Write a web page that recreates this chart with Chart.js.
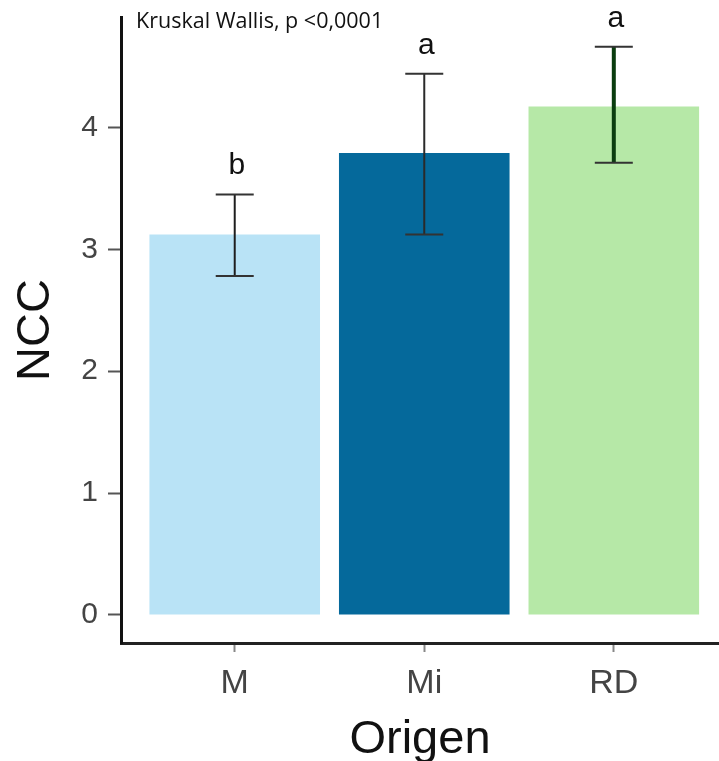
<!DOCTYPE html>
<html>
<head>
<meta charset="utf-8">
<script src="https://cdn.jsdelivr.net/npm/chart.js@4.4.1/dist/chart.umd.min.js"></script>
<style>
  html, body { margin: 0; padding: 0; background: #fff; }
</style>
</head>
<body>
<canvas id="nccChart" width="719" height="761"></canvas>
<script>
const categories = ['M', 'Mi', 'RD'];
const xPositions = [1, 2, 3];
const means = [3.12, 3.79, 4.17];
const errLow = [2.78, 3.12, 3.71];
const errHigh = [3.45, 4.44, 4.66];
const letters = ['b', 'a', 'a'];
const yTicks = [0, 1, 2, 3, 4];
const testLabel = 'Kruskal Wallis, p <0,0001';

const barColors = ['#b9e3f6', '#05699b', '#b6e8a7'];
const stemColors = ['#1e1e1e', '#2a2a2a', '#0b3d10'];

// error bars, group letters and the test label
const errorBars = {
  id: 'errorBars',
  afterDatasetsDraw(chart) {
    const ctx = chart.ctx;
    const xs = chart.scales.x;
    const ys = chart.scales.y;
    ctx.save();
    for (let i = 0; i < categories.length; i++) {
      const px = xs.getPixelForValue(xPositions[i]);
      const top = ys.getPixelForValue(errHigh[i]);
      const bot = ys.getPixelForValue(errLow[i]);

      ctx.strokeStyle = stemColors[i];
      ctx.lineWidth = i == 2 ? 4 : 2;
      ctx.beginPath();
      ctx.moveTo(px, top);
      ctx.lineTo(px, bot);
      ctx.stroke();

      ctx.strokeStyle = '#333';
      ctx.lineWidth = 2;
      ctx.beginPath();
      ctx.moveTo(px - 19, top);
      ctx.lineTo(px + 19, top);
      ctx.moveTo(px - 19, bot);
      ctx.lineTo(px + 19, bot);
      ctx.stroke();

      ctx.fillStyle = '#111';
      ctx.font = '30px "Liberation Sans"';
      ctx.textAlign = 'center';
      ctx.textBaseline = 'alphabetic';
      ctx.fillText(letters[i], px + 2, top - 20);
    }
    ctx.fillStyle = '#111';
    ctx.font = '21.5px "Open Sans"';
    ctx.textAlign = 'left';
    ctx.textBaseline = 'alphabetic';
    ctx.fillText(testLabel, chart.chartArea.left + 15, 28);
    ctx.restore();
  }
};

new Chart(document.getElementById('nccChart'), {
  type: 'bar',
  data: {
    datasets: [{
      data: means.map((m, i) => ({ x: xPositions[i], y: m })),
      backgroundColor: barColors,
      borderWidth: 0,
      barPercentage: 0.9,
      categoryPercentage: 1.0
    }]
  },
  options: {
    responsive: false,
    animation: false,
    layout: { padding: { top: 17, left: 0, right: 0, bottom: 0 } },
    plugins: {
      legend: { display: false },
      tooltip: { enabled: false }
    },
    scales: {
      x: {
        type: 'linear',
        offset: false,
        min: 0.4,
        max: 3.555,
        afterBuildTicks: s => { s.ticks = xPositions.map(v => ({ value: v })); },
        afterFit: s => {
          s.height = 118;
          s.paddingLeft = 0;
          s.paddingRight = 0;
        },
        ticks: {
          callback: (v, i) => categories[i],
          font: { family: 'Liberation Sans', size: 34 },
          color: '#444',
          padding: 11,
          maxRotation: 0
        },
        grid: { offset: false, drawOnChartArea: false, tickLength: 9, color: '#888', tickWidth: 2 },
        border: { display: true, color: '#222', width: 3 },
        title: {
          display: true,
          text: 'Origen',
          font: { family: 'Liberation Sans', size: 47 },
          color: '#111',
          padding: { top: 0, bottom: -7 }
        }
      },
      y: {
        min: -0.23,
        max: 4.905,
        afterBuildTicks: s => { s.ticks = yTicks.map(v => ({ value: v })); },
        afterFit: s => {
          s.width = 121;
          s.paddingTop = 0;
          s.paddingBottom = 0;
        },
        ticks: {
          font: { family: 'Liberation Sans', size: 30 },
          color: '#444',
          padding: 10
        },
        grid: { drawOnChartArea: false, tickLength: 13, color: '#555', tickWidth: 2 },
        border: { display: true, color: '#111', width: 3 },
        title: {
          display: true,
          text: 'NCC',
          font: { family: 'Liberation Sans', size: 47 },
          color: '#111',
          padding: { top: 8, bottom: 0 }
        }
      }
    }
  },
  plugins: [errorBars]
});
</script>
</body>
</html>
